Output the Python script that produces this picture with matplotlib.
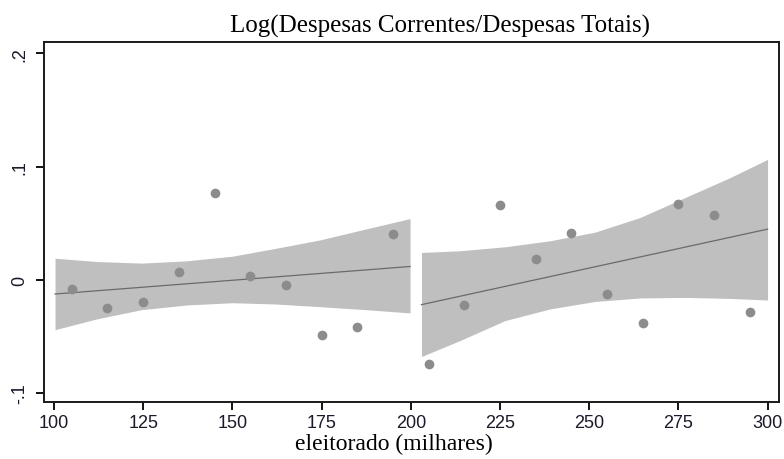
import numpy as np
import matplotlib
matplotlib.use('Agg')
import matplotlib.pyplot as plt

# --- Dados ---
# medias por faixa de eleitorado
x_esq = [105, 115, 125, 135, 145, 155, 165, 175, 185, 195]
y_esq = [-0.0085, -0.0247, -0.0200, 0.0064, 0.0764, 0.0030,
         -0.0047, -0.0490, -0.0417, 0.0405]
x_dir = [205, 215, 225, 235, 245, 255, 265, 275, 285, 295]
y_dir = [-0.0743, -0.0223, 0.0660, 0.0182, 0.0417, -0.0123,
         -0.0382, 0.0667, 0.0573, -0.0282]

# reta ajustada (extremos)
reta_esq_x = [100.3, 199.8]
reta_esq_y = [-0.0126, 0.0117]
reta_dir_x = [203.0, 300.0]
reta_dir_y = [-0.0220, 0.0447]

# intervalo de confianca
ic_esq_x = [100.3, 112.0, 124.6, 137.2, 150.0, 161.9, 174.6, 187.2, 199.8]
ic_esq_sup = [0.0190, 0.0161, 0.0147, 0.0167, 0.0208, 0.0276, 0.0352,
              0.0447, 0.0540]
ic_esq_inf = [-0.0441, -0.0346, -0.0264, -0.0223, -0.0203, -0.0214,
              -0.0238, -0.0264, -0.0293]
ic_dir_x = [203.0, 213.8, 226.4, 239.0, 251.6, 264.2, 276.8, 289.4, 300.0]
ic_dir_sup = [0.0241, 0.0256, 0.0291, 0.0344, 0.0420, 0.0549, 0.0725,
              0.0901, 0.1063]
ic_dir_inf = [-0.0678, -0.0537, -0.0361, -0.0258, -0.0192, -0.0161,
              -0.0156, -0.0165, -0.0179]

x_ticks = [100, 125, 150, 175, 200, 225, 250, 275, 300]
y_ticks = [-0.1, 0.0, 0.1, 0.2]
y_ticklabels = ['-.1', '0', '.1', '.2']

titulo = 'Log(Despesas Correntes/Despesas Totais)'
rotulo_x = 'eleitorado (milhares)'

# --- Figura ---
fig = plt.figure(figsize=(7.84, 4.60), dpi=100)
ax = fig.add_axes([0.0561, 0.1239, 0.9375, 0.7826])

cor_ic = '#bfbfbf'
cor_pt = '#8c8c8c'
cor_reta = '#6a6a6a'

for ix, sup, inf in [(ic_esq_x, ic_esq_sup, ic_esq_inf),
                     (ic_dir_x, ic_dir_sup, ic_dir_inf)]:
    ax.fill_between(ix, inf, sup, color=cor_ic, linewidth=0, zorder=1)

ax.plot(reta_esq_x, reta_esq_y, color=cor_reta, linewidth=0.9, zorder=2)
ax.plot(reta_dir_x, reta_dir_y, color=cor_reta, linewidth=0.9, zorder=2)

ax.plot(x_esq, y_esq, 'o', color=cor_pt, markersize=7,
        markeredgewidth=0, zorder=3)
ax.plot(x_dir, y_dir, 'o', color=cor_pt, markersize=7,
        markeredgewidth=0, zorder=3)

ax.set_xlim(97.2, 303.2)
ax.set_ylim(-0.108, 0.21)

ax.set_xticks(x_ticks)
ax.set_xticklabels([str(v) for v in x_ticks], fontfamily='Liberation Sans',
                   fontsize=13, color='#1a1a2a')
ax.set_yticks(y_ticks)
ax.set_yticklabels(y_ticklabels, fontfamily='Liberation Sans',
                   fontsize=13, color='#1a1a2a', rotation=90, va='center')

ax.tick_params(axis='both', direction='out', length=6, width=1.3)
ax.tick_params(axis='x', pad=2.5)
ax.tick_params(axis='y', pad=5)
for sp in ax.spines.values():
    sp.set_linewidth(1.4)
    sp.set_color('#1a1a1a')

fig.text(0.561, 0.943, titulo, fontfamily='Liberation Serif', fontsize=18,
         ha='center', va='center')
fig.text(0.5026, 0.021, rotulo_x, fontfamily='Liberation Serif', fontsize=17,
         ha='center', va='baseline')

fig.savefig('out.png', dpi=100)
